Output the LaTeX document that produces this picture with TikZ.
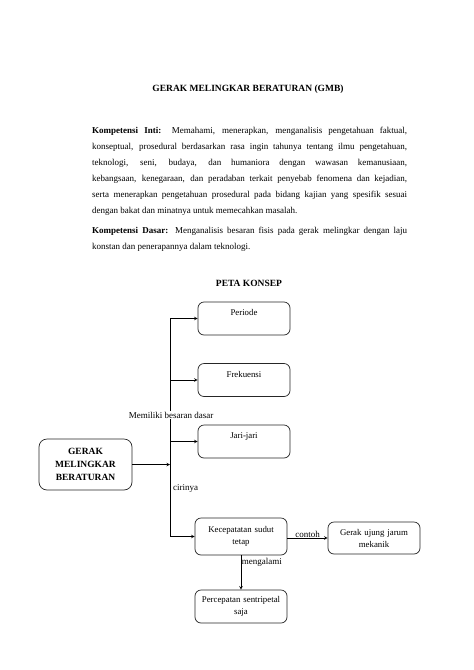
\documentclass[tikz,border=0pt]{standalone}
\usepackage{fontspec}
\setmainfont{Liberation Serif}
\usetikzlibrary{shapes.geometric, arrows}
\tikzstyle{heading} = [font=\bfseries\fontsize{9.5}{12}\selectfont, inner sep=0pt]
\tikzstyle{bodytext} = [anchor=base west, inner sep=0pt, text width=315pt, align=justify, font=\fontsize{9}{16}\selectfont]
\tikzstyle{concept} = [rectangle, rounded corners=6pt, minimum width=92pt, minimum height=33pt, text width=90pt, inner xsep=1pt, align=center, draw=black!85, line width=0.7pt, font=\fontsize{8.8}{12}\selectfont]
\tikzstyle{oneline} = [text depth=12pt]
\tikzstyle{main} = [rectangle, rounded corners=8pt, minimum width=93pt, minimum height=51pt, text width=88pt, inner xsep=2pt, align=center, draw=black!85, line width=0.7pt, font=\bfseries\fontsize{9.5}{13}\selectfont]
\tikzstyle{linklabel} = [inner sep=1pt, font=\fontsize{9}{11}\selectfont]
\tikzstyle{arrow} = [line width=0.6pt,->,>=stealth]

\begin{document}
\begin{tikzpicture}[x=1pt, y=-1pt, node distance=61.5pt]
\useasboundingbox (0,0) rectangle (474,670);
\fill [white] (0,0) rectangle (474,670);

\node (title) [heading] at (248,89) {GERAK MELINGKAR BERATURAN (GMB)};
\node (kompetensi inti) [bodytext] at (92,133) {\textbf{Kompetensi Inti:} Memahami, menerapkan, menganalisis pengetahuan faktual,\linebreak konseptual, prosedural berdasarkan rasa ingin tahunya tentang ilmu pengetahuan,\linebreak teknologi, seni, budaya, dan humaniora dengan wawasan kemanusiaan,\linebreak kebangsaan, kenegaraan, dan peradaban terkait penyebab fenomena dan kejadian,\linebreak serta menerapkan pengetahuan prosedural pada bidang kajian yang spesifik sesuai\linebreak dengan bakat dan minatnya untuk memecahkan masalah.};
\node (kompetensi dasar) [bodytext] at (92,233) {\textbf{Kompetensi Dasar:} Menganalisis besaran fisis pada gerak melingkar dengan laju\linebreak konstan dan penerapannya dalam teknologi.};
\node (peta konsep) [heading] at (249,283) {PETA KONSEP};

\node (periode) [concept, oneline] at (244,318.5) {Periode};
\node (frekuensi) [concept, oneline, below of=periode] {Frekuensi};
\node (jari-jari) [concept, oneline, below of=frekuensi] {Jari-jari};
\node (kecepatan) [concept, minimum height=37pt, below of=jari-jari, node distance=95pt, xshift=-3pt] {Kecepatatan sudut\\tetap};
\node (percepatan) [concept, below of=kecepatan, node distance=70pt] {Percepatan sentripetal\\saja};
\node (gerak ujung) [concept, minimum height=32pt, right of=kecepatan, node distance=133pt, yshift=-1.5pt] {Gerak ujung jarum\\mekanik};
\node (gmb) [main] at (85.5,464.5) {GERAK\\MELINGKAR\\BERATURAN};

\coordinate (trunk) at (170,0);
\node (memiliki) [linklabel, fill=white] at (171,415) {Memiliki besaran dasar};
\node (cirinya) [linklabel, anchor=west] at (172,488) {cirinya};

\draw [line width=0.6pt] (trunk |- periode.west) -- (trunk |- memiliki.north);
\draw [arrow] (trunk |- memiliki.south) |- (kecepatan.west);
\draw [arrow] (trunk |- periode.west) -- (periode.west);
\draw [arrow] (trunk |- frekuensi.west) -- (frekuensi.west);
\draw [arrow] (trunk |- jari-jari.west) -- (jari-jari.west);
\draw [arrow] (gmb.east) -- (trunk |- gmb.east);
\draw [arrow] (kecepatan.east |- gerak ujung.west) -- node (contoh) [linklabel, above, inner sep=0.5pt] {contoh} (gerak ujung.west);
\draw [arrow] (kecepatan.south) -- node (mengalami) [linklabel, pos=0.2, right, inner sep=0.5pt] {mengalami} (percepatan.north);

\end{tikzpicture}
\end{document}
